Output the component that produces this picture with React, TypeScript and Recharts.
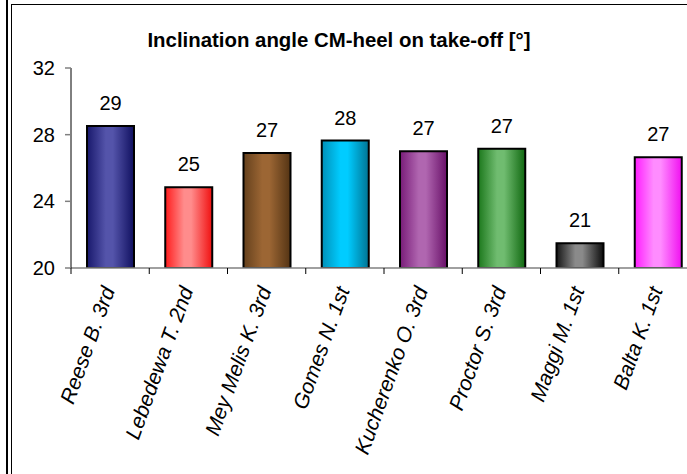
import React from "react";
import { BarChart, Bar, XAxis, YAxis, Cell, LabelList } from "recharts";

const categories = [
  "Reese B. 3rd",
  "Lebedewa T. 2nd",
  "Mey Melis K. 3rd",
  "Gomes N. 1st",
  "Kucherenko O. 3rd",
  "Proctor S. 3rd",
  "Maggi M. 1st",
  "Balta K. 1st",
];
const values = [28.52, 24.85, 26.9, 27.65, 27.0, 27.15, 21.48, 26.65];
const yTicks = [20, 24, 28, 32];
const edgeColors = ["#18186c", "#ff1c1c", "#64401c", "#0090b8", "#781c78", "#1c781c", "#161616", "#ff1cff"];
const midColors = ["#5454aa", "#ff8c8c", "#9c6634", "#00ccff", "#b066b0", "#70bc70", "#8a8a8a", "#ff8cff"];
const darkEdgeColors = ["#101060", "#f01010", "#543414", "#007494", "#681068", "#106810", "#0c0c0c", "#f010f0"];

const title = "Inclination angle CM-heel on take-off [°]";

const data = categories.map((name, i) => ({ name, value: values[i] }));

const FONT = "'Liberation Sans', Arial, sans-serif";

const XTick = (props: any) => {
  const { x, y, payload } = props;
  const half = payload && typeof payload.offset === "number" ? payload.offset : 39;
  const ax = x + 5;
  const ay = y + 22;
  return (
    <g>
      <line x1={x - half} x2={x - half} y1={y} y2={y + 6} stroke="#000" strokeWidth={1} />
      <text
        x={ax}
        y={ay}
        textAnchor="end"
        transform={`rotate(-70, ${ax}, ${ay})`}
        fontFamily={FONT}
        fontSize={21}
        fontStyle="italic"
        fill="#000"
      >
        {payload.value}
      </text>
    </g>
  );
};

export default function App() {
  return (
    <div
      style={{
        position: "absolute",
        left: 0,
        top: 0,
        width: 687,
        height: 474,
        overflow: "hidden",
        background: "#fff",
      }}
    >
      <BarChart
        width={687}
        height={474}
        data={data}
        margin={{ top: 68, right: -10, bottom: 0, left: 0 }}
        barSize={47}
        style={{ overflow: "hidden" }}
      >
        <defs>
          {categories.map((c, i) => (
            <linearGradient key={c} id={`grad${i}`} x1="0" y1="0" x2="1" y2="0">
              <stop offset="0%" stopColor={edgeColors[i]} />
              <stop offset="40%" stopColor={midColors[i]} />
              <stop offset="55%" stopColor={midColors[i]} />
              <stop offset="100%" stopColor={darkEdgeColors[i]} />
            </linearGradient>
          ))}
        </defs>
        <text
          x={339}
          y={47}
          textAnchor="middle"
          fontFamily={FONT}
          fontSize={20.4}
          fontWeight="bold"
          fill="#000"
        >
          {title}
        </text>
        <XAxis
          dataKey="name"
          height={206}
          interval={0}
          tickLine={false}
          tickSize={0}
          tickMargin={0}
          axisLine={{ stroke: "#808080", strokeWidth: 1.5 }}
          tick={<XTick />}
        />
        <YAxis
          width={71}
          domain={[20, 32]}
          ticks={yTicks}
          interval={0}
          allowDataOverflow
          tickSize={6}
          tickMargin={10}
          axisLine={{ stroke: "#000", strokeWidth: 1 }}
          tickLine={{ stroke: "#808080", strokeWidth: 1.5 }}
          tick={{ fontFamily: FONT, fontSize: 20, fill: "#000" }}
        />
        <Bar dataKey="value" stroke="#000" strokeWidth={2} isAnimationActive={false}>
          {data.map((d, i) => (
            <Cell key={d.name} fill={`url(#grad${i})`} />
          ))}
          <LabelList
            dataKey="value"
            position="top"
            offset={16}
            formatter={(v: any) => Math.round(Number(v))}
            style={{ fontFamily: FONT, fontSize: 20, fill: "#000" }}
          />
        </Bar>
      </BarChart>
      <div style={{ position: "absolute", left: 6, top: 0, width: 1.5, height: 474, background: "#000" }} />
      <div
        style={{
          position: "absolute",
          left: 11,
          top: 4,
          width: 700,
          height: 500,
          borderLeft: "1.5px solid #000",
          borderTop: "1.5px solid #000",
          boxSizing: "border-box",
        }}
      />
    </div>
  );
}
